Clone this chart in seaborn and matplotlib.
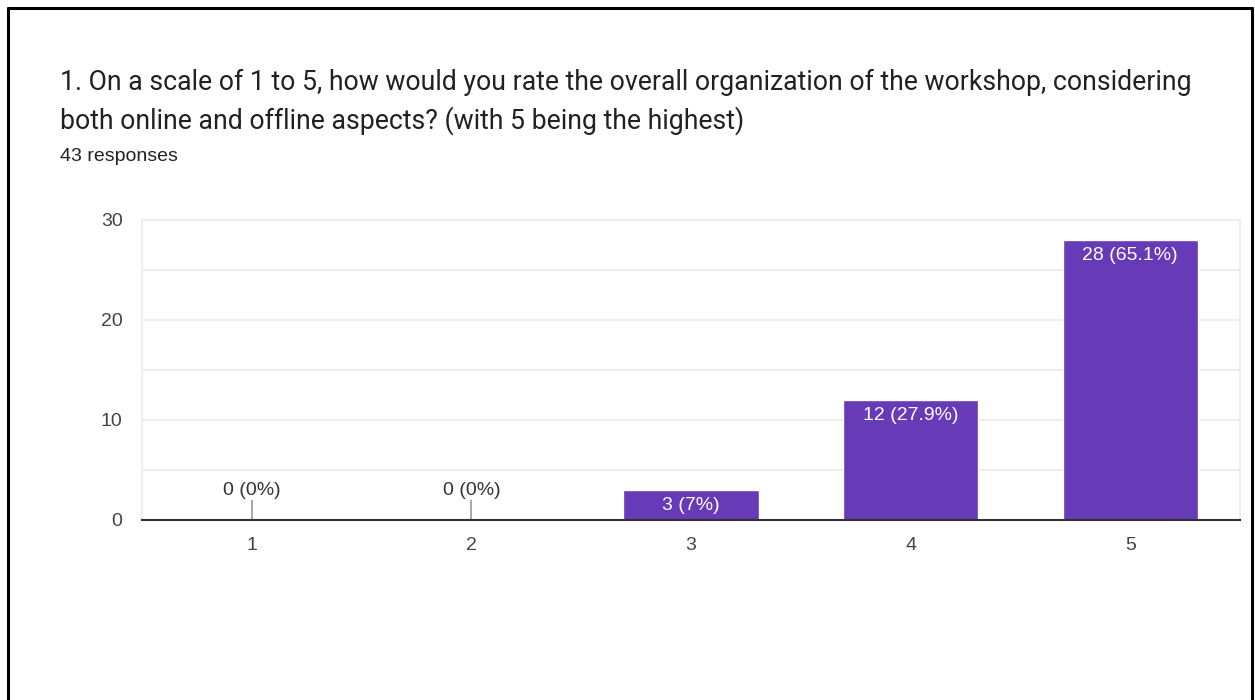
import pandas as pd
import matplotlib.pyplot as plt
import seaborn as sns

# survey data
ratings = ['1', '2', '3', '4', '5']
counts = [0, 0, 3, 12, 28]
labels = ['0 (0%)', '0 (0%)', '3 (7%)', '12 (27.9%)', '28 (65.1%)']
y_ticks = [0, 10, 20, 30]
title_lines = ["1. On a scale of 1 to 5, how would you rate the overall organization of the workshop, considering",
               "both online and offline aspects? (with 5 being the highest)"]
subtitle_text = "43 responses"

df = pd.DataFrame({'Rating': ratings, 'Count': counts})

sns.set_theme(style="white")
plt.rcParams['font.family'] = ['Liberation Sans', 'DejaVu Sans']

fig = plt.figure(figsize=(12.55, 7), dpi=100)
ax = fig.add_axes([142 / 1255, 1 - 520 / 700, 1098 / 1255, 300 / 700])

sns.barplot(data=df, x='Rating', y='Count', color='#673ab7', saturation=1,
            width=0.615, ax=ax)

# grid lines every 5, labels every 10
ax.set_xlim(-0.5, len(ratings) - 0.5)
ax.set_ylim(0, 30)
ax.set_yticks(y_ticks)
ax.set_yticks([5, 15, 25], minor=True)
ax.grid(axis='y', which='both', color='#ebebeb', linewidth=1.2)
ax.set_axisbelow(True)
ax.tick_params(axis='both', which='both', length=0, labelsize=14, colors='#444444')
ax.tick_params(axis='y', pad=14)
ax.tick_params(axis='x', pad=12)
ax.set_xlabel('')
ax.set_ylabel('')

for side in ['left', 'right', 'top']:
    ax.spines[side].set_color('#ebebeb')
    ax.spines[side].set_linewidth(1.2)
ax.spines['bottom'].set_color('#333333')
ax.spines['bottom'].set_linewidth(1.5)

# value labels
for i, (v, lab) in enumerate(zip(counts, labels)):
    if v == 0:
        ax.vlines(i, 0, 2, color='#999999', linewidth=1.2)
        ax.annotate(lab, (i, 2), xytext=(0, 1), textcoords='offset points',
                    ha='center', va='bottom', fontsize=14, color='#333333')
    else:
        ax.annotate(lab, (i, v), xytext=(0, -5), textcoords='offset points',
                    ha='center', va='top', fontsize=14, color='white')

# titles
fig.text(60 / 1255, 1 - 90 / 700, title_lines[0], ha='left', va='baseline',
         fontsize=19.2, color='#202124', family=['Roboto', 'DejaVu Sans'])
fig.text(60 / 1255, 1 - 129 / 700, title_lines[1], ha='left', va='baseline',
         fontsize=19.2, color='#202124', family=['Roboto', 'DejaVu Sans'])
fig.text(60 / 1255, 1 - 161 / 700, subtitle_text, ha='left', va='baseline',
         fontsize=14, color='#202124')

# black frame around the card (no bottom edge)
fig.add_artist(plt.Line2D([7.5 / 1255, 7.5 / 1255], [0, 1 - 7.5 / 700],
                          transform=fig.transFigure, color='black', linewidth=2.2))
fig.add_artist(plt.Line2D([7.5 / 1255, 1251.5 / 1255], [1 - 7.5 / 700, 1 - 7.5 / 700],
                          transform=fig.transFigure, color='black', linewidth=2.2))
fig.add_artist(plt.Line2D([1251.5 / 1255, 1251.5 / 1255], [0, 1 - 7.5 / 700],
                          transform=fig.transFigure, color='black', linewidth=2.2))

fig.savefig('out.png', dpi=100, facecolor='white')
